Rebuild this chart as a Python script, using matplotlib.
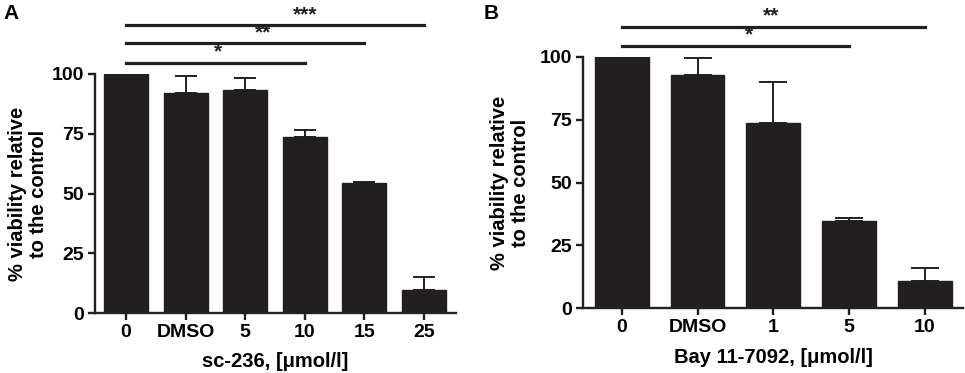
import matplotlib
matplotlib.use('Agg')
import matplotlib.pyplot as plt

plt.rcParams['font.family'] = ['Liberation Sans', 'DejaVu Sans']
plt.rcParams['font.weight'] = 'bold'

# Painel A - sc-236
cats_a = ['0', 'DMSO', '5', '10', '15', '25']
vals_a = [100, 92.2, 93.3, 73.5, 54.5, 9.6]
err_a = [0, 7.1, 5.2, 3.1, 0.4, 5.3]
# (inicio, fim, nivel y, rotulo)
sig_a = [(0, 3, 104.8, '*'), (0, 4, 112.8, '**'), (0, 5, 120.5, '***')]
star_x_a = [1.54, 2.3, 3.0]

# Painel B - Bay 11-7092
cats_b = ['0', 'DMSO', '1', '5', '10']
vals_b = [100, 92.6, 73.6, 34.8, 11.0]
err_b = [0, 7.0, 16.3, 1.0, 4.9]
sig_b = [(0, 3, 104.4, '*'), (0, 4, 111.9, '**')]
star_x_b = [1.68, 1.97]

cor = '#231f20'

fig = plt.figure(figsize=(9.65, 3.73), dpi=100)
ax_a = fig.add_axes([95 / 965, 60 / 373, 361 / 965, 239 / 373])
ax_b = fig.add_axes([583.3 / 965, 64.7 / 373, 380 / 965, 251.6 / 373])


def painel(ax, cats, vals, err, sig, star_x, largura, cap, xlabel, xlim, ylab_x):
    x = list(range(len(cats)))
    ax.bar(x, vals, width=largura, color=cor, edgecolor=cor, zorder=2)
    ax.errorbar(x, vals, yerr=[[0] * len(vals), err], fmt='none', ecolor=cor,
                elinewidth=1.4, capsize=cap, capthick=1.4, zorder=3)
    ax.set_ylim(0, 100)
    ax.set_xlim(*xlim)
    ax.set_yticks([0, 25, 50, 75, 100])
    ax.set_xticks(x)
    ax.set_xticklabels(cats)
    for s in ['top', 'right']:
        ax.spines[s].set_visible(False)
    for s in ['left', 'bottom']:
        ax.spines[s].set_linewidth(1.7)
        ax.spines[s].set_color(cor)
    ax.tick_params(direction='out', length=5, width=1.7, color=cor,
                   labelsize=14, pad=3)
    ax.set_xlabel(xlabel, fontsize=14.5, fontweight='bold', labelpad=8)
    ax.set_ylabel('% viability relative\nto the control', fontsize=14.5,
                  fontweight='bold', linespacing=1.15)
    ax.yaxis.set_label_coords(ylab_x, 0.5)
    for (i0, i1, y, rot), sx in zip(sig, star_x):
        ax.plot([i0, i1], [y, y], color=cor, lw=2.3, clip_on=False,
                solid_capstyle='projecting')
        ax.text(sx, y + 0.4, rot, ha='center', va='bottom', fontsize=15,
                fontweight='bold', color=cor, clip_on=False)


painel(ax_a, cats_a, vals_a, err_a, sig_a, star_x_a, 0.74, 8,
       'sc-236, [\u03bcmol/l]', (-0.52, 5.54), -0.13)
painel(ax_b, cats_b, vals_b, err_b, sig_b, star_x_b, 0.71, 10,
       'Bay 11-7092, [\u03bcmol/l]', (-0.51, 4.51), -0.14)

fig.text(3 / 965, 1 - 4 / 373, 'A', fontsize=15, fontweight='bold', va='top')
fig.text(484 / 965, 1 - 4 / 373, 'B', fontsize=15, fontweight='bold', va='top')

fig.savefig('out.png', dpi=100)
